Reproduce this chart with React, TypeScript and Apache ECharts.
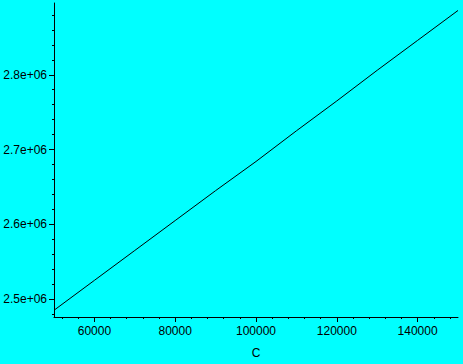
import React, { useEffect, useRef } from "react";
import * as echarts from "echarts";

const xValues = [50000, 60000, 70000, 80000, 90000, 100000, 110000, 120000, 130000, 140000, 150000];
const yValues = [2485000, 2525000, 2565000, 2605000, 2645000, 2684000, 2725000, 2765000, 2806000, 2846000, 2886000];

const xTickValues = [60000, 80000, 100000, 120000, 140000];
const xTickLabels = ["60000", "80000", "100000", "120000", "140000"];
const xMinorTicks = [52000, 56000, 64000, 68000, 72000, 76000, 84000, 88000, 92000, 96000, 104000, 108000, 112000, 116000, 124000, 128000, 132000, 136000, 144000, 148000];

const yTickValues = [2500000, 2600000, 2700000, 2800000];
const yTickLabels = ["2.5e+06", "2.6e+06", "2.7e+06", "2.8e+06"];
const yMinorTicks = [2480000, 2520000, 2540000, 2560000, 2580000, 2620000, 2640000, 2660000, 2680000, 2720000, 2740000, 2760000, 2780000, 2820000, 2840000, 2860000, 2880000];

const xMin = 50000;
const xMax = 150000;
const yMin = 2476000;
const yMax = 2896000;
const xName = "C";

const FONT = "Liberation Sans";

export default function App() {
  const ref = useRef<HTMLDivElement>(null);
  useEffect(() => {
    if (!ref.current) return;
    const chart = echarts.init(ref.current, null, { renderer: "svg" });
    const lineStyle = { color: "#000", width: 1 };
    chart.setOption({
      animation: false,
      backgroundColor: "#00ffff",
      grid: { left: 54, right: 5, top: 3, bottom: 44, containLabel: false },
      xAxis: [
        {
          type: "value",
          min: xMin,
          max: xMax,
          position: "bottom",
          name: xName,
          nameLocation: "middle",
          nameGap: 30,
          nameTextStyle: { color: "#000", fontFamily: FONT, fontSize: 12 },
          axisLine: { show: true, onZero: false, lineStyle },
          axisTick: { show: true, length: 5, lineStyle, customValues: xTickValues },
          axisLabel: {
            show: true,
            color: "#000",
            fontFamily: FONT,
            fontSize: 12,
            margin: 8,
            customValues: xTickValues,
            formatter: (v: number) => {
              const i = xTickValues.indexOf(v);
              return i >= 0 ? xTickLabels[i] : "";
            },
          },
          splitLine: { show: false },
        },
        {
          type: "value",
          min: xMin,
          max: xMax,
          position: "bottom",
          offset: 0,
          axisLine: { show: false, onZero: false },
          axisTick: { show: true, length: 2, lineStyle, customValues: xMinorTicks },
          axisLabel: { show: false },
          splitLine: { show: false },
        },
      ],
      yAxis: [
        {
          type: "value",
          min: yMin,
          max: yMax,
          position: "left",
          axisLine: { show: true, onZero: false, lineStyle },
          axisTick: { show: true, length: 5, lineStyle, customValues: yTickValues },
          axisLabel: {
            show: true,
            color: "#000",
            fontFamily: FONT,
            fontSize: 12,
            margin: 7,
            customValues: yTickValues,
            formatter: (v: number) => {
              const i = yTickValues.indexOf(v);
              return i >= 0 ? yTickLabels[i] : "";
            },
          },
          splitLine: { show: false },
        },
        {
          type: "value",
          min: yMin,
          max: yMax,
          position: "left",
          offset: 0,
          axisLine: { show: false, onZero: false },
          axisTick: { show: true, length: 2, lineStyle, customValues: yMinorTicks },
          axisLabel: { show: false },
          splitLine: { show: false },
        },
      ],
      series: [
        {
          type: "line",
          xAxisIndex: 0,
          yAxisIndex: 0,
          data: xValues.map((x, i) => [x, yValues[i]]),
          showSymbol: false,
          symbol: "none",
          lineStyle: { color: "#000", width: 1 },
        },
      ],
    });
    return () => chart.dispose();
  }, []);
  return (
    <div
      ref={ref}
      style={{ position: "fixed", left: 0, top: 0, width: 463, height: 364, background: "#00ffff" }}
    />
  );
}
